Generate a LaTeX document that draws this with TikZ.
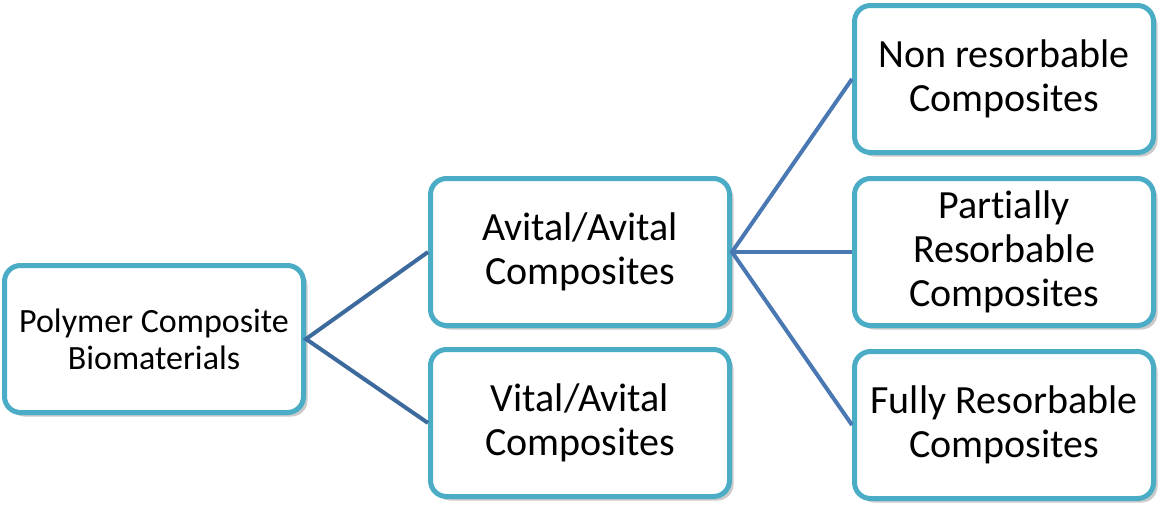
\documentclass[tikz,border=0pt]{standalone}
\usepackage{fontspec}
\setmainfont[Ligatures={NoCommon}]{Carlito}
\usetikzlibrary{shadows}
\definecolor{boxline}{HTML}{4BACC6}
\definecolor{linkdark}{HTML}{3D6A9C}
\definecolor{linklight}{HTML}{4A78B2}

\begin{document}
\begin{tikzpicture}[x=1pt,y=-1pt,
  catbox/.style={draw=boxline,line width=5pt,fill=white,rounded corners=16pt,
    minimum width=299pt,minimum height=147pt,align=center,inner sep=2pt,
    drop shadow={shadow xshift=4pt,shadow yshift=-4pt,opacity=0.35,fill=black!60}},
  bigtext/.style={font=\fontsize{40}{44}\selectfont},
  smalltext/.style={font=\fontsize{34}{37}\selectfont},
  link/.style={line width=4pt}]
\useasboundingbox (0,0) rectangle (1161,507);

\node[catbox,smalltext] (root) at (154,339) {Polymer Composite\\Biomaterials};
\node[catbox,bigtext] (avital) at (580,252) {Avital/Avital\\Composites};
\node[catbox,bigtext] (vital) at (580,423) {Vital/Avital\\Composites};
\node[catbox,bigtext] (nonres) at (1004,79) {Non resorbable\\Composites};
\node[catbox,bigtext] (partres) at (1004,252) {Partially\\Resorbable\\Composites};
\node[catbox,bigtext] (fullres) at (1004,425) {Fully Resorbable\\Composites};

\draw[link,linkdark] (avital.west) -- (root.east) -- (vital.west);
\draw[link,linklight] (nonres.west) -- (avital.east) -- (fullres.west);
\draw[link,linklight] (avital.east) -- (partres.west);

\end{tikzpicture}
\end{document}
